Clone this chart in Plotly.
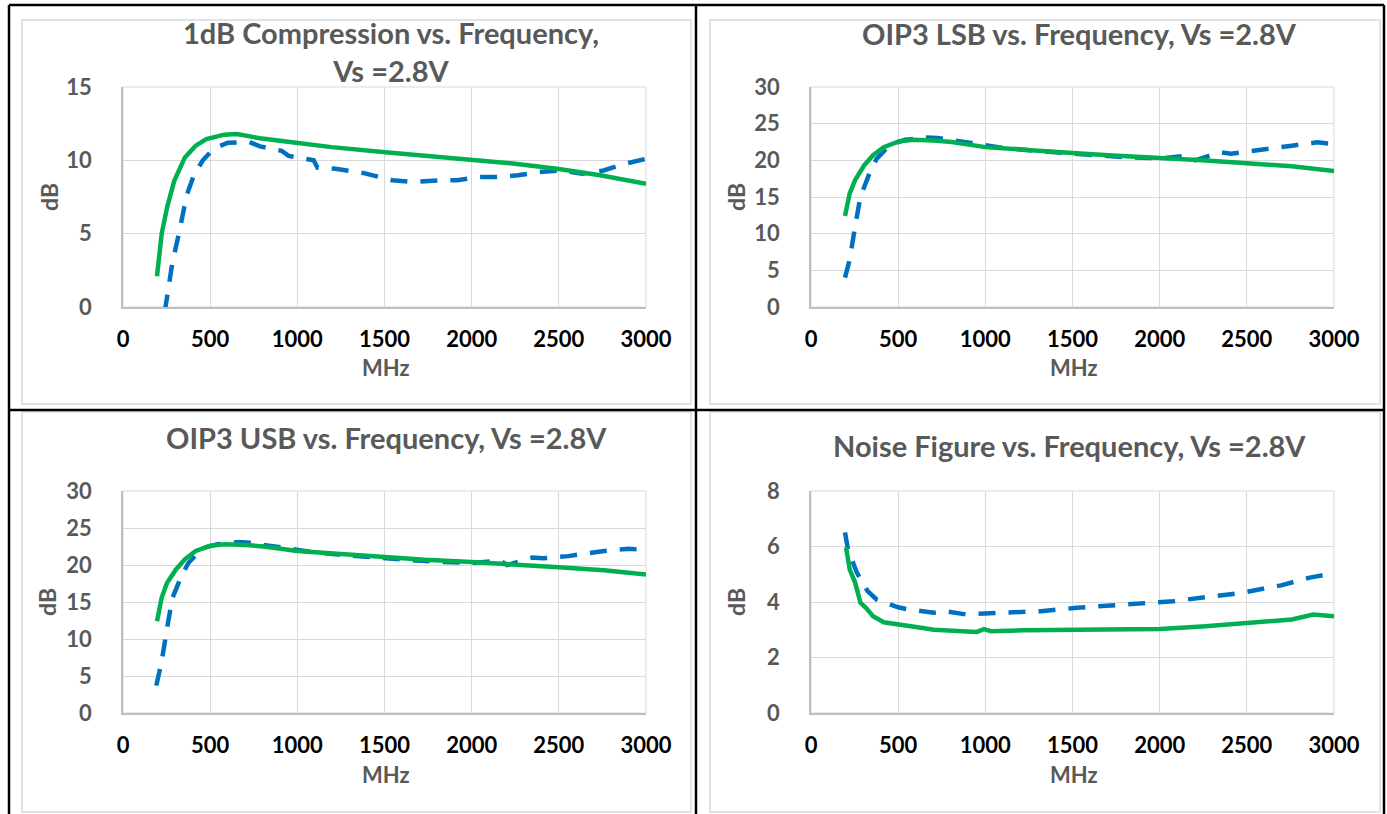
import plotly.graph_objects as go

W, H = 1387, 814

# ---------------- data (MHz, dB) ----------------
p1_green_f = [195, 222, 253, 294, 355, 417, 478, 581, 653, 786, 992, 1197, 1505, 1813, 2000, 2224, 2490, 2737, 3000]
p1_green_v = [2.1, 5.0, 6.8, 8.6, 10.2, 11.0, 11.45, 11.75, 11.8, 11.5, 11.2, 10.9, 10.55, 10.25, 10.0, 9.8, 9.43, 8.98, 8.4]
p1_blue_f = [240, 283, 325, 365, 407, 458, 520, 602, 725, 786, 910, 950, 1094, 1115, 1218, 1382, 1546, 1669, 1813, 1916, 2039, 2142, 2265, 2388, 2511, 2634, 2757, 2880, 3000]
p1_blue_v = [-0.3, 3.0, 5.25, 7.6, 9.0, 10.0, 10.8, 11.2, 11.25, 10.95, 10.65, 10.3, 10.0, 9.5, 9.43, 9.13, 8.64, 8.52, 8.64, 8.64, 8.86, 8.86, 8.98, 9.2, 9.31, 9.09, 9.31, 9.77, 10.1]

p2_green_f = [195, 222, 253, 304, 356, 417, 500, 582, 705, 808, 1000, 1218, 1500, 1731, 2000, 2244, 2500, 2758, 3000]
p2_green_v = [12.4, 15.5, 17.3, 19.3, 20.7, 21.8, 22.55, 22.8, 22.7, 22.5, 21.8, 21.4, 21.0, 20.65, 20.35, 20.0, 19.6, 19.2, 18.55]
p2_blue_f = [195, 222, 253, 283, 335, 376, 458, 541, 664, 726, 870, 1000, 1074, 1279, 1444, 1649, 1813, 2019, 2163, 2204, 2348, 2410, 2554, 2759, 2903, 3000]
p2_blue_v = [4.0, 6.45, 11.0, 15.0, 18.2, 20.2, 22.2, 22.8, 23.1, 23.05, 22.55, 22.0, 21.8, 21.3, 21.0, 20.65, 20.4, 20.3, 20.65, 20.0, 21.1, 20.9, 21.3, 22.0, 22.45, 22.2]

p3_green_f = [195, 222, 253, 304, 356, 417, 500, 582, 705, 808, 1000, 1218, 1500, 1731, 2000, 2244, 2500, 2758, 3000]
p3_green_v = [12.4, 15.6, 17.6, 19.4, 20.8, 21.9, 22.6, 22.8, 22.7, 22.5, 21.9, 21.5, 21.1, 20.7, 20.4, 20.1, 19.7, 19.3, 18.7]
p3_blue_f = [191, 222, 253, 283, 335, 376, 458, 541, 664, 726, 870, 1000, 1074, 1279, 1444, 1649, 1813, 2019, 2163, 2204, 2348, 2410, 2554, 2759, 2903, 3000]
p3_blue_v = [3.7, 7.0, 11.5, 15.5, 18.5, 20.3, 22.3, 22.8, 23.1, 23.0, 22.5, 22.0, 21.8, 21.3, 21.0, 20.7, 20.4, 20.3, 20.6, 20.0, 21.0, 20.9, 21.2, 21.9, 22.2, 22.0]

p4_green_f = [201, 222, 253, 284, 315, 356, 417, 500, 602, 705, 808, 951, 992, 1033, 1218, 1500, 1731, 2000, 2244, 2500, 2758, 2881, 3000]
p4_green_v = [5.97, 5.18, 4.70, 3.97, 3.79, 3.49, 3.27, 3.18, 3.10, 3.0, 2.97, 2.92, 3.02, 2.95, 2.98, 3.0, 3.04, 3.03, 3.12, 3.24, 3.37, 3.55, 3.49]
p4_blue_f = [195, 212, 263, 325, 376, 500, 561, 705, 767, 890, 1074, 1320, 1525, 1710, 1895, 2080, 2285, 2471, 2697, 2861, 3000]
p4_blue_v = [6.51, 5.9, 5.06, 4.39, 4.09, 3.81, 3.73, 3.61, 3.67, 3.55, 3.61, 3.67, 3.79, 3.87, 3.95, 4.03, 4.19, 4.33, 4.60, 4.88, 5.04]

titles = [
    "1dB Compression vs. Frequency,<br>Vs =2.8V",
    "OIP3 LSB vs. Frequency, Vs =2.8V",
    "OIP3 USB vs. Frequency, Vs =2.8V",
    "Noise Figure vs. Frequency, Vs =2.8V",
]
x_ticks = [0, 500, 1000, 1500, 2000, 2500, 3000]
y_ranges = [(0, 15, 5), (0, 30, 5), (0, 30, 5), (0, 8, 2)]

GREEN = "#00B050"
BLUE = "#0070C0"
TITLE_GRAY = "#595959"
FONT = "Lato"

# plot-area pixel boxes (left, right, top, bottom)
boxes = [(123, 646, 87, 307), (811, 1334, 87, 307), (123, 646, 491, 713), (811, 1334, 491, 713)]
# chart frames (light gray)
frames = [(22, 691, 20, 404), (710, 1380, 20, 404), (22, 691, 412, 812), (710, 1380, 412, 812)]
title_pos = [(391, 51), (1079, 33), (386, 438), (1069, 445)]
db_x = [49, 736, 47, 736]


def px(x):
    return x / W


def py(y):
    return 1 - y / H


series = [
    (p1_green_f, p1_green_v, p1_blue_f, p1_blue_v),
    (p2_green_f, p2_green_v, p2_blue_f, p2_blue_v),
    (p3_green_f, p3_green_v, p3_blue_f, p3_blue_v),
    (p4_green_f, p4_green_v, p4_blue_f, p4_blue_v),
]

fig = go.Figure()
shapes = []
annotations = []
layout_axes = {}

for i, (gf, gv, bf, bv) in enumerate(series):
    n = "" if i == 0 else str(i + 1)
    xa, ya = "x" + n, "y" + n
    fig.add_trace(go.Scatter(x=bf, y=bv, mode="lines", xaxis=xa, yaxis=ya,
                             line=dict(color=BLUE, width=4.5, dash="17px,13px"),
                             showlegend=False, hoverinfo="skip"))
    fig.add_trace(go.Scatter(x=gf, y=gv, mode="lines", xaxis=xa, yaxis=ya,
                             line=dict(color=GREEN, width=4.5),
                             showlegend=False, hoverinfo="skip"))
    l, r, t, b = boxes[i]
    y0, y1, dy = y_ranges[i]
    layout_axes["xaxis" + n] = dict(
        domain=[px(l), px(r)], range=[0, 3000], anchor=ya, tickvals=x_ticks,
        showgrid=True, gridcolor="#d9d9d9", gridwidth=1, zeroline=False,
        showline=True, linecolor="#bfbfbf", linewidth=1.5, ticks="",
        ticklabelstandoff=12, automargin=False,
        tickfont=dict(family=FONT, size=22, color="#000000", weight="bold"),
    )
    layout_axes["yaxis" + n] = dict(
        domain=[py(b), py(t)], range=[y0, y1], dtick=dy, anchor=xa,
        showgrid=True, gridcolor="#d9d9d9", gridwidth=1, zeroline=False,
        showline=True, linecolor="#bfbfbf", linewidth=1.5, ticks="",
        ticklabelstandoff=25, automargin=False,
        tickfont=dict(family=FONT, size=22, color=TITLE_GRAY, weight="bold"),
    )
    # plot-area outline (top/right)
    shapes.append(dict(type="rect", xref="paper", yref="paper",
                       x0=px(l), x1=px(r), y0=py(b), y1=py(t),
                       line=dict(color="#d9d9d9", width=1), layer="below"))
    # chart frame
    fl, fr, ft, fb = frames[i]
    shapes.append(dict(type="rect", xref="paper", yref="paper",
                       x0=px(fl), x1=px(fr), y0=py(fb), y1=py(ft),
                       line=dict(color="#d9d9d9", width=1.5)))
    tx, ty = title_pos[i]
    annotations.append(dict(text="<b>" + titles[i] + "</b>", xref="paper", yref="paper",
                            x=px(tx), y=py(ty), showarrow=False, xanchor="center", yanchor="middle",
                            font=dict(family=FONT, size=29, color=TITLE_GRAY)))
    annotations.append(dict(text="<b>dB</b>", xref="paper", yref="paper",
                            x=px(db_x[i]), y=py((t + b) / 2), textangle=-90, showarrow=False,
                            xanchor="center", yanchor="middle",
                            font=dict(family=FONT, size=23, color=TITLE_GRAY)))
    annotations.append(dict(text="<b>MHz</b>", xref="paper", yref="paper",
                            x=px((l + r) / 2 + 1), y=py(b + 61), showarrow=False,
                            xanchor="center", yanchor="middle",
                            font=dict(family=FONT, size=22, color=TITLE_GRAY)))

# black table lines
for (x0, y0_, x1, y1_) in [(9, 5, 9, 814), (9, 5, 1384, 5), (696, 5, 696, 814),
                           (9, 410, 1384, 410), (1384, 5, 1384, 814)]:
    shapes.append(dict(type="line", xref="paper", yref="paper",
                       x0=px(x0), x1=px(x1), y0=py(y0_), y1=py(y1_),
                       line=dict(color="#000000", width=2.5)))

fig.update_layout(
    template="none",
    width=W, height=H, autosize=False,
    margin=dict(l=0, r=0, t=0, b=0, pad=0),
    paper_bgcolor="white", plot_bgcolor="white",
    shapes=shapes, annotations=annotations, showlegend=False,
    **layout_axes,
)

fig.write_html("out.html", config={"displayModeBar": False},
               post_script="document.body.style.margin='0';document.body.style.overflow='hidden';")
